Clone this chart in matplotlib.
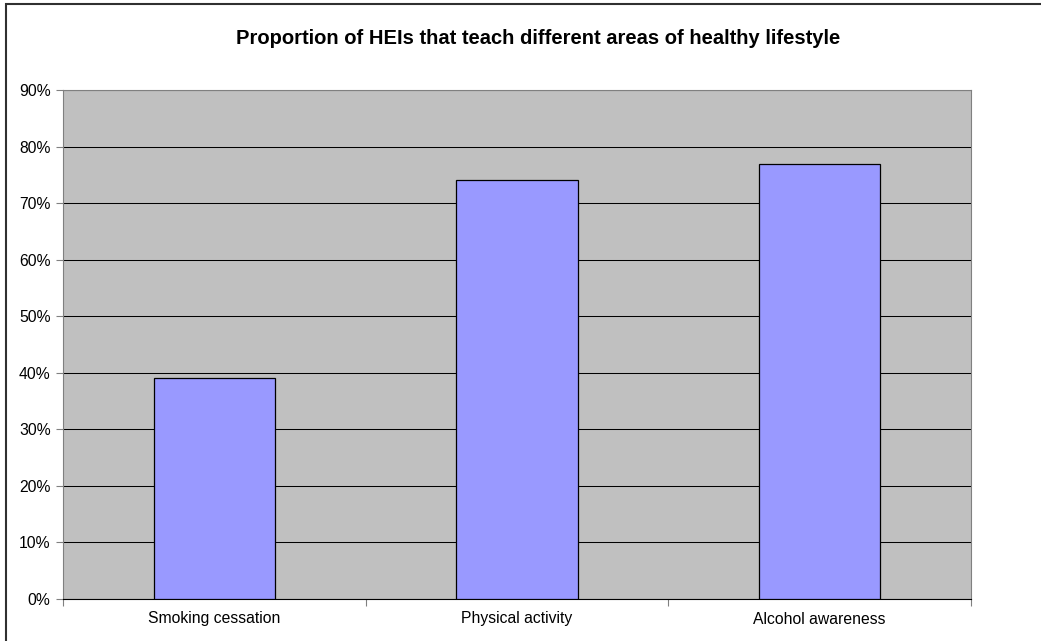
import numpy as np
import matplotlib
matplotlib.use('Agg')
import matplotlib.pyplot as plt
from matplotlib.patches import Rectangle
from matplotlib.ticker import FuncFormatter

#################################################################################
# data
#################################################################################
categories = ['Smoking cessation', 'Physical activity', 'Alcohol awareness']
values     = [0.39, 0.74, 0.77]
yticks     = np.arange(0, 0.91, 0.1)

plt.rcParams['font.family'] = ['Liberation Sans', 'DejaVu Sans']

fig = plt.figure(figsize=(10.41, 6.41), dpi=100)
ax  = fig.add_axes([63/1041, 42/641, 908/1041, 509/641])

# outer chart border (left/top visible)
fig.patches.append(Rectangle((6/1041, -0.05), 1.2, (641-4)/641 + 0.05,
                             transform=fig.transFigure, fill=False,
                             edgecolor='#303030', lw=1.5))

ax.set_facecolor('#C0C0C0')
x = np.arange(len(categories))
ax.bar(x, values, width=0.4, color='#9999FF', edgecolor='black', lw=0.9, zorder=3)

ax.set_xlim(-0.5, len(categories) - 0.5)
ax.set_ylim(0, 0.9)
ax.set_yticks(yticks)
ax.yaxis.set_major_formatter(FuncFormatter(lambda v, p: '%d%%' % round(v * 100)))
ax.grid(axis='y', color='black', lw=0.75, zorder=1)
ax.set_axisbelow(True)

# category labels between boundary ticks
ax.set_xticks(np.arange(-0.5, len(categories), 1.0))
ax.set_xticklabels([])
ax.set_xticks(x, minor=True)
ax.set_xticklabels(categories, minor=True)
ax.tick_params(axis='x', which='minor', length=0, pad=9, labelsize=11.3)
ax.tick_params(axis='x', which='major', length=5, color='#808080')
ax.tick_params(axis='y', length=5, color='#808080', labelsize=11.3, pad=4)

for s in ['top', 'right']:
    ax.spines[s].set_color('#808080')
ax.spines['left'].set_color('#808080')
ax.spines['bottom'].set_color('black')

fig.text(538/1041, 1 - 38/641,
         'Proportion of HEIs that teach different areas of healthy lifestyle',
         ha='center', va='center', fontsize=14.5, fontweight='bold')

fig.savefig('out.png', dpi=100)
